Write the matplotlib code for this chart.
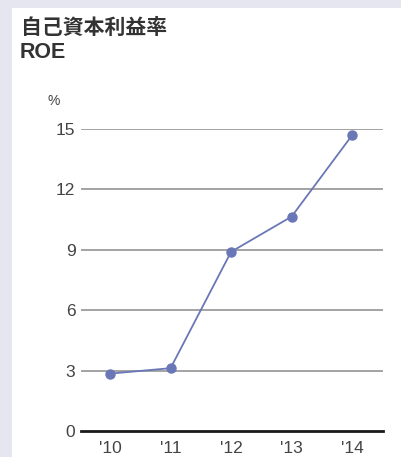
import matplotlib.pyplot as plt
from matplotlib.patches import Rectangle

plt.rcParams['font.family'] = ['Liberation Sans', 'Noto Sans CJK JP', 'DejaVu Sans']

# ROE by fiscal year (%)
years = ["'10", "'11", "'12", "'13", "'14"]
roe = [2.85, 3.12, 8.9, 10.65, 14.69]
yticks = [0, 3, 6, 9, 12, 15]

W, H = 401, 457
fig = plt.figure(figsize=(W / 100, H / 100), dpi=100)
fig.patch.set_facecolor('#e6e6f1')

# white card behind the chart
fig.patches.append(Rectangle((12 / W, 0), 1, (H - 8) / H, transform=fig.transFigure,
                             facecolor='white', edgecolor='none', zorder=-5))

fig.text(21 / W, 1 - 27.5 / H, '自己資本利益率', family=['Noto Sans CJK JP'],
         fontsize=15, fontweight='bold', color='#333333', va='center', ha='left')
fig.text(20 / W, 1 - 53 / H, 'ROE', fontsize=15.5, fontweight='bold',
         color='#333333', va='center', ha='left')

ax = fig.add_axes([81 / W, 26 / H, 302 / W, 302 / H])
ax.set_zorder(2)
ax.set_facecolor('none')
x = list(range(len(years)))

for v in yticks[1:]:
    ax.axhline(v, color='#8a8a8a', linewidth=1.1, zorder=1)
ax.axhline(0, color='#1a1a1a', linewidth=2, zorder=2, clip_on=False)

ax.plot(x, roe, color='#6a77b6', linewidth=1.3, marker='o', markersize=6.5,
        zorder=3, clip_on=False)

ax.set_xlim(-0.48, 4.51)
ax.set_ylim(0, 15)
ax.set_xticks(x)
ax.set_xticklabels(years)
ax.set_yticks(yticks)
ax.set_yticklabels([str(v) for v in yticks])
ax.tick_params(axis='both', length=0, labelsize=12.5, colors='#444444')
ax.tick_params(axis='x', pad=7)
ax.tick_params(axis='y', pad=4)
for s in ax.spines.values():
    s.set_visible(False)

fig.text(54 / W, 1 - 101 / H, '%', fontsize=10, color='#444444', ha='center', va='center')

fig.savefig('out.png', dpi=100, facecolor=fig.get_facecolor())
